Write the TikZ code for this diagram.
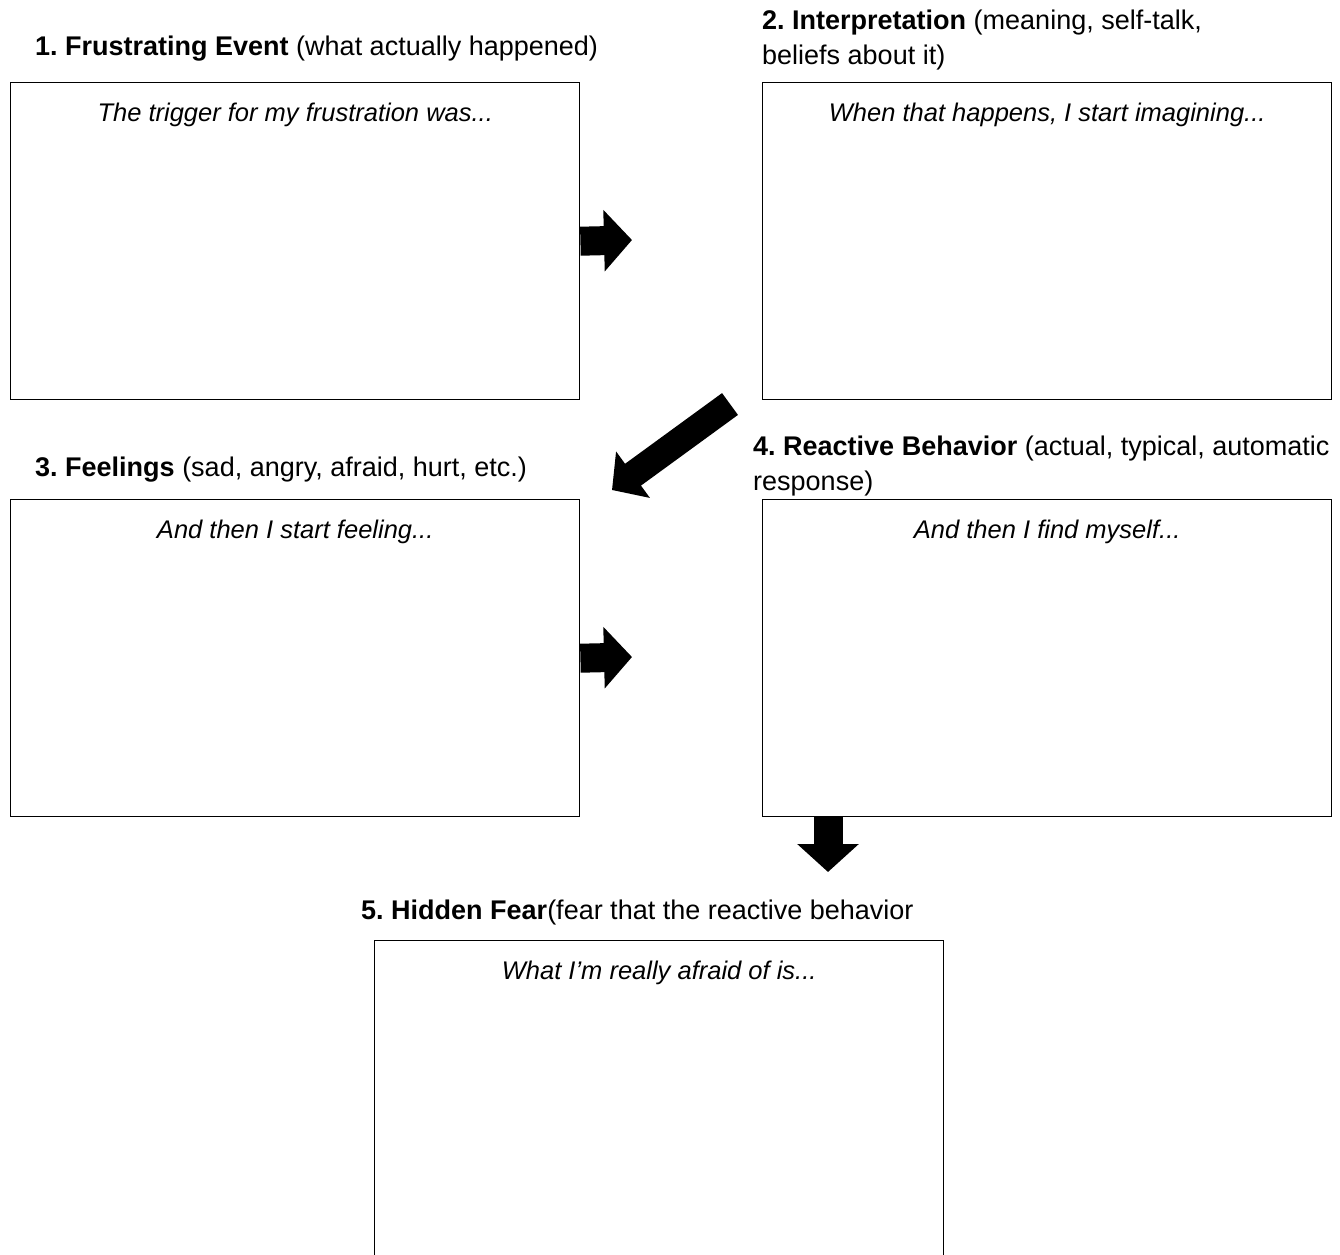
\documentclass[tikz,border=0pt]{standalone}
\usepackage{fontspec}
\setmainfont{Liberation Sans}
\usetikzlibrary{positioning, arrows.meta}
\frenchspacing

\tikzset{
  box/.style={draw, line width=1.4pt, anchor=north west, minimum width=569pt, minimum height=317pt, inner sep=0pt},
  prompt/.style={font=\fontsize{25.5}{30}\selectfont\itshape, inner sep=0pt, anchor=north},
  heading/.style={font=\fontsize{27}{35}\selectfont, inner sep=0pt, anchor=base west, align=left},
  blockarrow/.style={line width=29pt, -{Triangle[length=28pt, width=60pt]}}
}

\begin{document}
\begin{tikzpicture}[x=1pt, y=-1pt]
\useasboundingbox (0,0) rectangle (1340,1254);
% Boxes
\node (b1) at (10, 82) [box] {};
\node (b2) at (762, 82) [box] {};
\node (b3) at (10, 499) [box] {};
\node (b4) at (762, 499) [box] {};
\node (b5) at (374, 940) [box, minimum height=340pt] {};

% Headings
\node (h1) at (35, 55) [heading] {\textbf{1. Frustrating Event} (what actually happened)};
\node (h2) at (762, 64) [heading] {\textbf{2. Interpretation} (meaning, self-talk,\\beliefs about it)};
\node (h3) at (35, 476) [heading] {\textbf{3. Feelings} (sad, angry, afraid, hurt, etc.)};
\node (h4) at (753, 490) [heading] {\textbf{4. Reactive Behavior} (actual, typical, automatic\\response)};
\node (h5) at (361, 919) [heading] {\textbf{5. Hidden Fear}(fear that the reactive behavior};

% Prompts
\node (p1) [prompt, below=21pt of b1.north] {The trigger for my frustration was...};
\node (p2) [prompt, below=21pt of b2.north] {When that happens, I start imagining...};
\node (p3) [prompt, below=21pt of b3.north] {And then I start feeling...};
\node (p4) [prompt, below=21pt of b4.north] {And then I find myself...};
\node (p5) [prompt, below=21pt of b5.north] {What I’m really afraid of is...};

% Arrows
\coordinate (t1) at (632, 240);
\coordinate (t3) at (632, 657);
\coordinate (d1) at (730, 404);
\coordinate (d2) at (612, 490);
\coordinate (s4) at (828, 816);
\coordinate (t4) at (828, 872);
\draw[blockarrow] (b1.east) -- (t1);
\draw[blockarrow] (b3.east) -- (t3);
\draw[line width=27pt, -{Triangle[length=26pt, width=56pt]}] (d1) -- (d2);
\draw[blockarrow] (s4) -- (t4);
\end{tikzpicture}
\end{document}
